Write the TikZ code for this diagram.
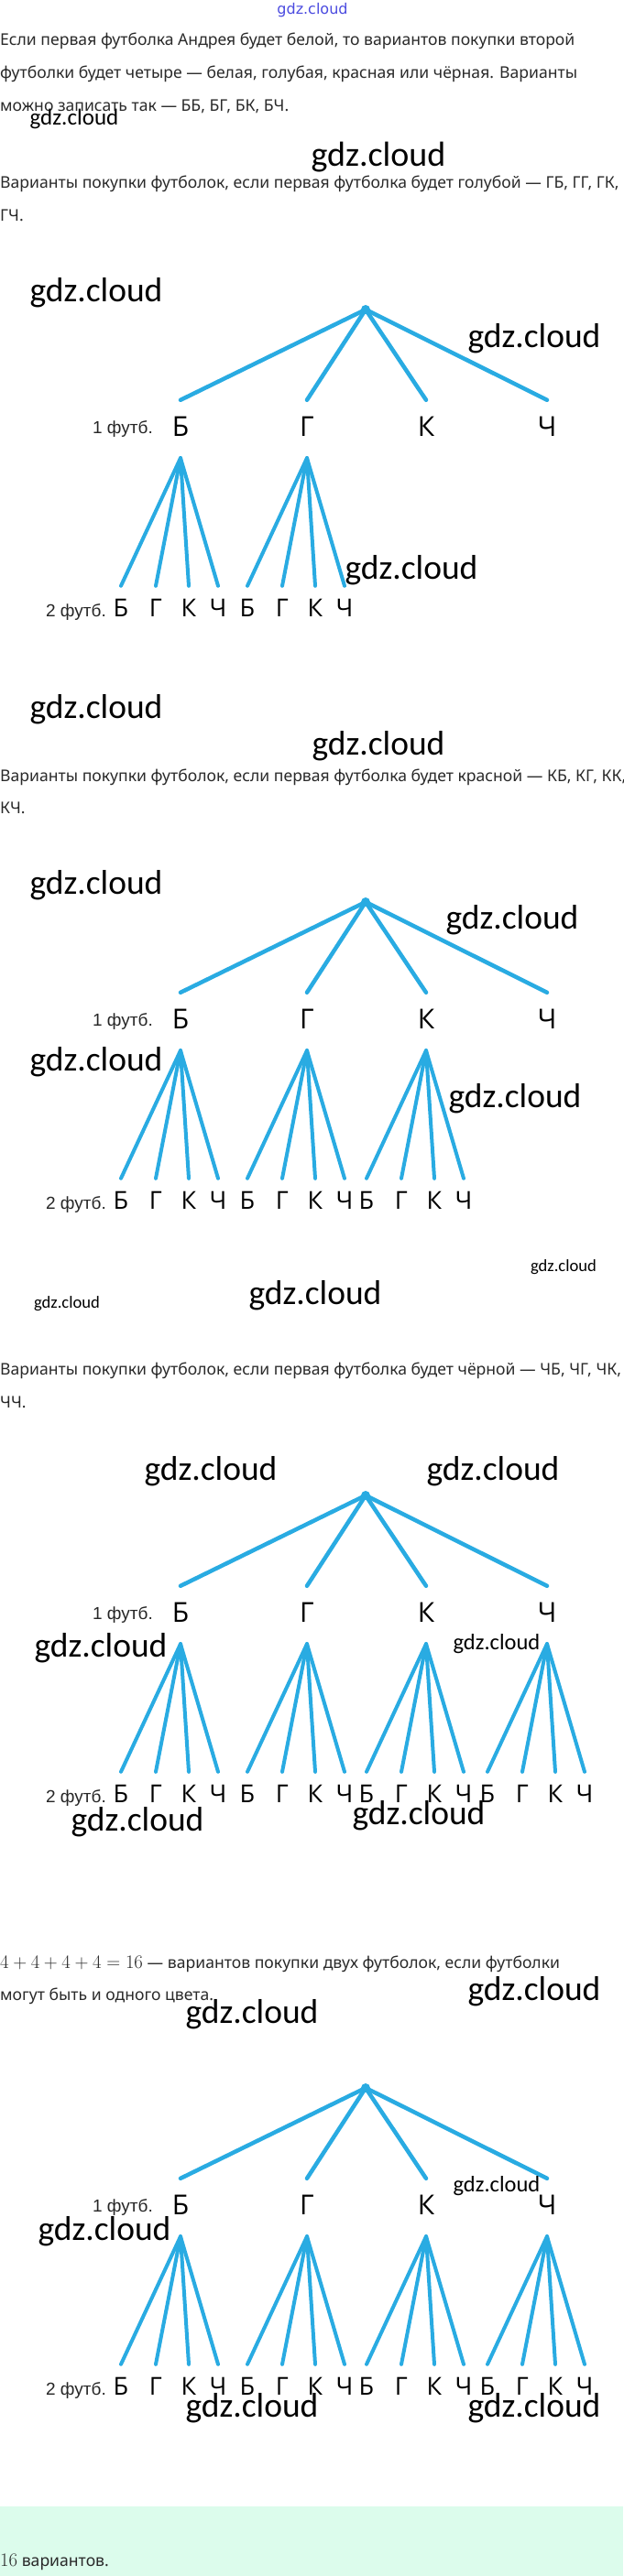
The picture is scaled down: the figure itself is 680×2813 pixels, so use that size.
\documentclass[tikz,border=0pt]{standalone}
\usepackage{fontspec}
\usepackage{xcolor}
\setmainfont{Noto Sans}
\newfontfamily\treefont{Open Sans}
\newfontfamily\markfont{Carlito}
\newfontfamily\shirtfont{Liberation Sans}
\newfontfamily\topfont{DejaVu Sans}
\definecolor{treeblue}{HTML}{29ABE2}
\definecolor{bodygray}{HTML}{2A2A2A}
\definecolor{mintback}{HTML}{DCFCEC}
\definecolor{siteblue}{HTML}{4B4BE0}

\begin{document}
\begin{tikzpicture}[x=1pt, y=-1pt, line cap=round,
        txt/.style={anchor=base west, inner sep=0pt, text=bodygray, font=\fontsize{17.6}{20}\selectfont},
        wm/.style={inner sep=0pt, font=\markfont\fontsize{37.5}{40}\selectfont},
        dot/.style={circle, fill=treeblue, inner sep=0pt, minimum size=10pt},
        shirt/.style={anchor=base east, inner sep=0pt, text=black!85, font=\shirtfont\fontsize{19}{19}\selectfont},
        first/.style={anchor=base, inner sep=0pt, text height=39.5pt, text depth=23.5pt, font=\treefont\fontsize{30}{30}\selectfont},
        second/.style={anchor=base, inner sep=0pt, text height=33pt, text depth=2pt, font=\treefont\fontsize{27}{27}\selectfont},
        stem/.style={treeblue, line width=4.5pt},
        twig/.style={treeblue, line width=4pt}]
        \fill[white] (0,0) rectangle (680,2813);
        \useasboundingbox (0,0) rectangle (680,2813);
        \fill[mintback] (0,2737) rectangle (680,2813);

        \node[inner sep=0pt, anchor=base, text=siteblue, font=\topfont\fontsize{16}{16}\selectfont] (site) at (341,16) {gdz.cloud};

        % text lines
        \node[txt] (p1a) at (0,49) {Если первая футболка Андрея будет белой, то вариантов покупки второй};
        \node[txt] (p1b) at (0,85) {футболки будет четыре — белая, голубая, красная или чёрная. Варианты};
        \node[txt] (p1c) at (0,121) {можно записать так — ББ, БГ, БК, БЧ.};
        \node[txt] (p2a) at (0,205) {Варианты покупки футболок, если первая футболка будет голубой — ГБ, ГГ, ГК,};
        \node[txt] (p2b) at (0,241) {ГЧ.};
        \node[txt] (p3a) at (0,853) {Варианты покупки футболок, если первая футболка будет красной — КБ, КГ, КК,};
        \node[txt] (p3b) at (0,888) {КЧ.};
        \node[txt] (p4a) at (0,1501) {Варианты покупки футболок, если первая футболка будет чёрной — ЧБ, ЧГ, ЧК,};
        \node[txt] (p4b) at (0,1537) {ЧЧ.};
        \node[txt] (p5a) at (0,2149) {{\fontsize{21.5}{24}\selectfont$4+4+4+4=16$} — вариантов покупки двух футболок, если футболки};
        \node[txt] (p5b) at (0,2184) {могут быть и одного цвета.};
        \node[txt] (p6) at (0,2802) {{\fontsize{21.5}{24}\selectfont$16$} вариантов.};

        % trees
        \foreach \t/\ry/\n in {1/338/2, 2/985/3, 3/1633/4, 4/2280/4} {
            \node[dot] (r\t) at (399,\ry) {};
            \node[shirt] (a\t) at (167,{\ry+135}) {1 футб.};
            \node[shirt] (b\t) at (116,{\ry+335}) {2 футб.};
            \foreach \i/\fx/\c in {1/197/Б, 2/335/Г, 3/465/К, 4/597/Ч} {
                \node[first] (f\t\i) at (\fx,{\ry+138.5}) {\c};
                \draw[stem] (r\t.center) -- (f\t\i.north);
                \ifnum\i>\n\else
                    \foreach \j/\dx/\d in {1/-65/Б, 2/-27/Г, 3/9/К, 4/41/Ч} {
                        \node[second] (s\t\i\j) at ({\fx+\dx},{\ry+335}) {\d};
                        \draw[twig] (f\t\i.south) -- (s\t\i\j.north);
                    }
                \fi
            }
        }

        % watermarks
        \foreach \x/\y/\s [count=\k] in {81/130/25, 413/172/38, 105/320/37.5, 583/370/37.5, 449/623/37.5,
                105/775/37.5, 413/815/37.5, 105/967/37.5, 559/1005/37.5, 105/1160/37.5, 562/1200/37.5,
                615/1384/18.6, 73/1424/18.6, 344/1415/37.5, 230/1607/37.5, 538/1607/37.5,
                110/1800/37.5, 542/1795/24.5, 150/1990/37.5, 457/1983/37.5,
                583/2175/37.5, 275/2200/37.5, 542/2387/24.5, 114/2437/37.5, 275/2630/37.5, 583/2630/37.5}
            \node[wm, font=\markfont\fontsize{\s}{\s}\selectfont] (w\k) at (\x,\y) {gdz.cloud};
    \end{tikzpicture}
\end{document}
